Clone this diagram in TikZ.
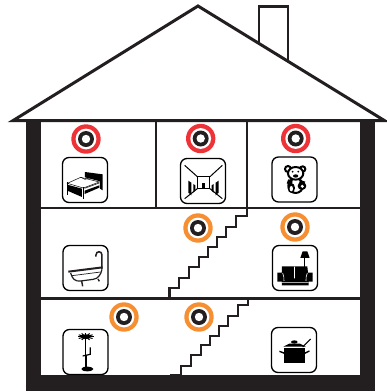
\documentclass[tikz,border=0pt]{standalone}
\definecolor{ink}{HTML}{231F20}
\definecolor{sred}{HTML}{EE3338}
\definecolor{sorange}{HTML}{F68F32}
\tikzset{
  line/.style={draw=ink,line width=2.6pt,line join=miter},
  solid wall/.style={fill=ink},
  iconbox/.style={draw=black,line width=1.3pt,rounded corners=6.5pt,fill=white},
  stairline/.style={draw=ink,line width=2.8pt,line join=miter},
  zoomed/.style={x=0.3333pt,y=-0.3333pt}
}
\newcommand{\sensor}[3]{%
  \fill[#3] (#1,#2) circle (14.7);
  \fill[white] (#1,#2) circle (10.4);
  \fill[ink] (#1,#2) circle (8);
  \fill[white] (#1,#2) circle (4.2);}
\newcommand{\iconframe}[2]{\path[iconbox] (#1-22.5,#2-22.5) rectangle (#1+22.5,#2+22.5);}
\begin{document}
\begin{tikzpicture}[x=1pt,y=-1pt]
\useasboundingbox (0,0) rectangle (387,392);
\fill[white] (0,0) rectangle (387,392);
% chimney
\draw[line,line width=2.2pt] (259.3,44) -- (259.3,6.5) -- (288,6.5) -- (288,61);
% roof
\draw[line,line width=3pt] (13,120.6) -- (198,6) -- (384.5,120.6) -- cycle;
% walls
\fill[solid wall] (26,121) rectangle (41,391);
\fill[solid wall] (360,121) rectangle (375,391);
\fill[solid wall] (26,375) rectangle (375,391);
% floors and partitions
\draw[line] (41,208) -- (360,208);
\draw[line] (41,298.5) -- (360,298.5);
\draw[line] (156,121) -- (156,208);
\draw[line] (247,121) -- (247,208);
% stairs
\draw[stairline] (169.3,298.5) |- (179,288) |- (189,278) |- (199,267) |- (208,257) |- (217,247) |- (226,237) |- (236,227) |- (247,216) -- (247,208);
\draw[stairline] (181,376) |- (191,366) |- (201,355) |- (210,345) |- (219,336) |- (228,326) |- (238,316) |- (248,305) -- (248,298);
\fill[ink] (170,373.5) rectangle (182,376);
% sensors
\sensor{86}{139}{sred}
\sensor{200.7}{138.5}{sred}
\sensor{295.7}{138.5}{sred}
\sensor{198}{228}{sorange}
\sensor{295}{227}{sorange}
\sensor{124}{317}{sorange}
\sensor{199}{317}{sorange}
% icon frames
\iconframe{85}{180}
\iconframe{203}{181}
\iconframe{294.5}{179.5}
\iconframe{85.5}{268}
\iconframe{295}{268}
\iconframe{85.5}{352}
\iconframe{294}{350}
% bed
\begin{scope}[shift={(40,120)},zoomed]
\fill[black] (135,156) -- (188,163) -- (188,211) -- (180,206) -- (180,184) -- (135,172) -- cycle;
\path[fill=white,draw=black,line width=.5pt] (82,190) -- (122,172) -- (178,186) -- (130,204) -- cycle;
\draw[black,line width=.5pt] (122,172) -- (135,178) -- (160,170);
\fill[black] (82,194) -- (126,206) -- (126,231) -- (82,212) -- cycle;
\draw[black,line width=.5pt] (134,205) -- (178,189);
\fill[black] (134,212) -- (178,196) -- (178,203) -- (134,222) -- cycle;
\draw[black,line width=1pt] (82,186) -- (82,224);
\draw[black,line width=1pt] (130,202) -- (130,238);
\end{scope}
% hall
\begin{scope}[shift={(160,120)},zoomed]
\draw[black,line width=1pt] (74,136) -- (112,170) (187,136) -- (150,170) (74,236) -- (112,206) (187,236) -- (150,206);
\draw[black,line width=1pt] (112,170) rectangle (150,206);
\fill[black] (85,182) -- (94,188) -- (94,226) -- (85,218) -- cycle;
\fill[black] (100,192) -- (106,196) -- (106,212) -- (100,218) -- cycle;
\fill[black] (176,182) -- (167,188) -- (167,226) -- (176,218) -- cycle;
\fill[black] (161,192) -- (155,196) -- (155,212) -- (161,218) -- cycle;
\fill[black] (126,190) rectangle (136,204);
\end{scope}
% bear
\begin{scope}[shift={(160,120)},zoomed]
\path[fill=white,draw=black,line width=2pt] (384,147) circle (9) (428,147) circle (8);
\path[fill=white,draw=black,line width=2pt] (407,197) ellipse (22 and 22);
\path[fill=white,draw=black,line width=2pt] (407,160) ellipse (23 and 19);
\fill[black] (407,168) ellipse (8 and 5);
\fill[black] (398,155) circle (3) (415,155) circle (3);
\fill[black] (385,178) -- (398,180) -- (396,196) -- (380,190) -- cycle;
\fill[black] (420,180) -- (436,185) -- (430,195) -- (416,194) -- cycle;
\path[fill=black] (394,204) ellipse (11 and 15);
\path[fill=white] (394,206) ellipse (5 and 8);
\path[fill=black] (426,198) ellipse (13 and 12);
\path[fill=white] (427,199) ellipse (5 and 5);
\end{scope}
% bath
\begin{scope}[shift={(40,205)},zoomed]
\draw[ink,line width=2pt] (85,200) -- (188,187);
\draw[ink,line width=1.2pt] (92,204) .. controls (97,222) and (105,230) .. (122,228) -- (160,223) .. controls (175,221) and (183,208) .. (186,193);
\draw[ink,line width=.7pt] (96,212) -- (182,201);
\draw[ink,line width=1.4pt] (125,228) -- (128,244) (174,222) -- (178,229);
\draw[ink,line width=1.5pt] (186,192) -- (186,150) .. controls (186,137) and (168,137) .. (168,150) -- (168,155);
\end{scope}
% sofa
\begin{scope}[shift={(160,205)},zoomed]
\fill[black] (428,139) -- (442,139) -- (449,159) -- (421,159) -- cycle;
\draw[black,line width=1pt] (435,159) -- (435,186);
\fill[black] (366,184) -- (442,184) -- (444,203) -- (458,203) -- (458,230) -- (446,230) -- (446,241) -- (366,241) -- (366,230) -- (352,230) -- (352,203) -- (366,203) -- cycle;
\draw[white,line width=.6pt] (403.5,185) -- (403.5,220) (368,204) .. controls (372,212) and (372,220) .. (372,228) (442,204) .. controls (438,212) and (438,220) .. (438,228) (366,232) -- (446,232);
\end{scope}
% plant
\begin{scope}[shift={(40,295)},zoomed]
\foreach \a in {0,30,...,330}{\draw[black,line width=1pt] (137,125) -- ++({\a}:{24} and {11});}
\fill[black] (137,125) ellipse (15 and 7);
\draw[black,line width=1.4pt] (137,130) -- (137,180);
\draw[black,line width=1.8pt] (137,180) -- (137,216);
\draw[black,line width=1.2pt] (151,157) -- (151,178) -- (128,183);
\fill[black] (142,222) ellipse (18 and 7);
\end{scope}
% pot
\begin{scope}[shift={(160,295)},zoomed]
\fill[black] (373,155) -- (435,155) -- (435,205) -- (373,205) -- cycle;
\fill[black] (358,167) -- (373,172) -- (373,177) -- (358,171) -- cycle;
\fill[black] (448,166) -- (435,172) -- (435,177) -- (449,170) -- cycle;
\path[fill=black] (370,155) -- (388,146) -- (420,146) -- (438,155) -- cycle;
\fill[black] (403,141) ellipse (10 and 5);
\draw[white,line width=.6pt] (372,157) -- (436,157);
\draw[black,line width=1pt] (428,156) -- (452,132);
\end{scope}
\end{tikzpicture}
\end{document}
